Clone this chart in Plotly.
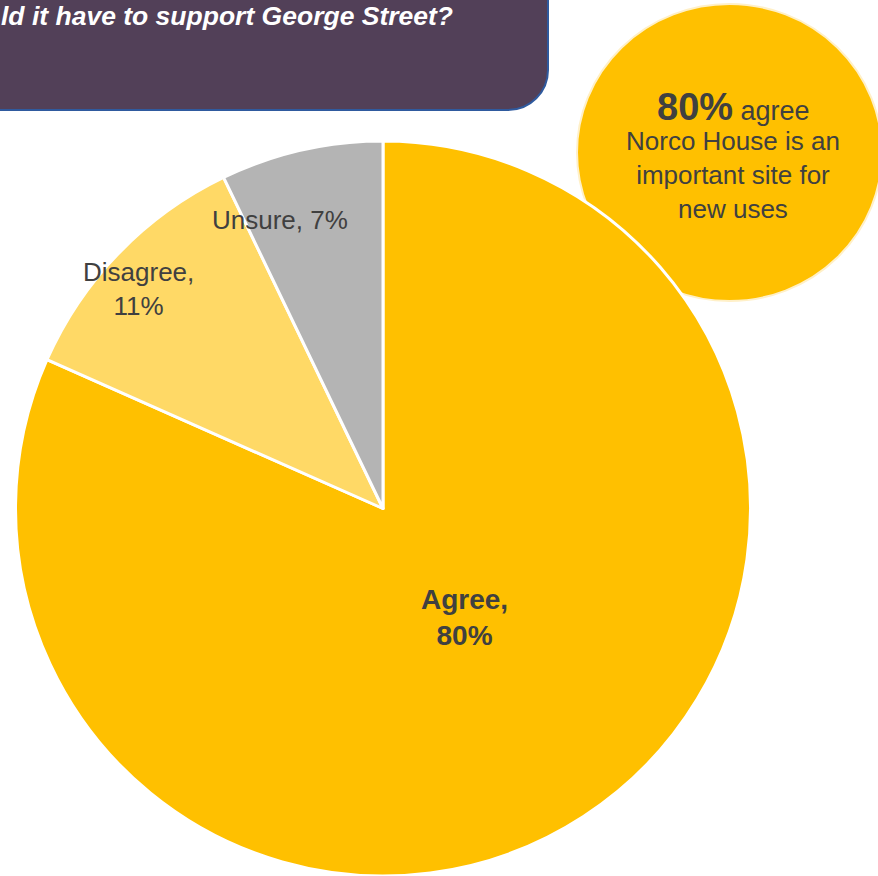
import math
import plotly.graph_objects as go

# ---- data ----
categories = ["Agree", "Disagree", "Unsure"]
values = [80, 11, 7]
label_text = ["Agree,<br>80%", "Disagree,<br>11%", "Unsure, 7%"]
colors = ["#FFC000", "#FFD966", "#B4B4B4"]
banner_text = "ld it have to support George Street?"
callout_head = "80%"
callout_lines = ["Norco House is an", "important site for", "new uses"]

W, H = 878, 876
TXT = "#404040"


def px(x):
    return x / W


def py(y):
    return 1 - y / H


# pie geometry (pixels)
cx, r = 383, 367.5
cy = H - r

fig = go.Figure()
fig.add_trace(go.Pie(
    labels=categories, values=values, sort=False, direction="clockwise",
    rotation=0, textinfo="none", hoverinfo="label+percent",
    marker=dict(colors=colors, line=dict(color="white", width=3)),
    domain=dict(x=[px(cx - r), px(cx + r)], y=[0, py(cy - r)]),
    showlegend=False,
))

# label placement from slice mid-angles
total = sum(values)
cum = 0
label_cfg = [(-4.0, 0.37, 28, True), (-2.2, 0.895, 26, False), (-6.8, 0.835, 26, False)]
annotations = []
for v, t, (dth, frac, fs, bold) in zip(values, label_text, label_cfg):
    mid = (cum + v / 2) / total * 360 + dth
    cum += v
    a = math.radians(mid)
    lx = cx + frac * r * math.sin(a)
    ly = cy - frac * r * math.cos(a)
    annotations.append(dict(
        x=px(lx), y=py(ly), xref="paper", yref="paper", showarrow=False,
        text=f"<b>{t}</b>" if bold else t, xanchor="center", yanchor="middle",
        font=dict(family="Liberation Sans, Arial", size=fs, color=TXT),
    ))

# banner text
annotations.append(dict(
    x=px(-1), y=py(16), xref="paper", yref="paper", showarrow=False,
    text=f"<b><i>{banner_text}</i></b>", xanchor="left", yanchor="middle",
    font=dict(family="Liberation Sans, Arial", size=26.5, color="white"),
))

# callout text
annotations.append(dict(
    x=px(733), y=py(107), xref="paper", yref="paper", showarrow=False,
    text=f"<b>{callout_head}</b><span style='font-size:27px'> agree</span>",
    xanchor="center", yanchor="middle",
    font=dict(family="Liberation Sans, Arial", size=38, color=TXT),
))
annotations.append(dict(
    x=px(733), y=py(175), xref="paper", yref="paper", showarrow=False,
    text="<br>".join(callout_lines), xanchor="center", yanchor="middle",
    align="center",
    font=dict(family="Liberation Sans, Arial", size=26, color=TXT),
))

# banner shape (rounded bottom-right corner)
k = 0.5523 * 40
banner_path = (
    f"M {px(-20)},{py(-20)} L {px(548)},{py(-20)} L {px(548)},{py(70)} "
    f"C {px(548)},{py(70 + k)} {px(508 + k)},{py(110)} {px(508)},{py(110)} "
    f"L {px(-20)},{py(110)} Z"
)

shapes = [
    dict(type="circle", xref="paper", yref="paper", layer="below",
         x0=px(577), x1=px(882), y0=py(301), y1=py(4),
         fillcolor="#FFC000", line=dict(color="#FFF0C8", width=2)),
    dict(type="path", xref="paper", yref="paper", layer="above",
         path=banner_path, fillcolor="#524058",
         line=dict(color="#2F5A9E", width=2)),
]

fig.update_layout(
    width=W, height=H, margin=dict(l=0, r=0, t=0, b=0),
    paper_bgcolor="white", plot_bgcolor="white",
    annotations=annotations, shapes=shapes,
)

fig.write_html(
    "out.html",
    config={"displayModeBar": False},
    post_script="document.body.style.margin='0';document.body.style.overflow='hidden';",
)
